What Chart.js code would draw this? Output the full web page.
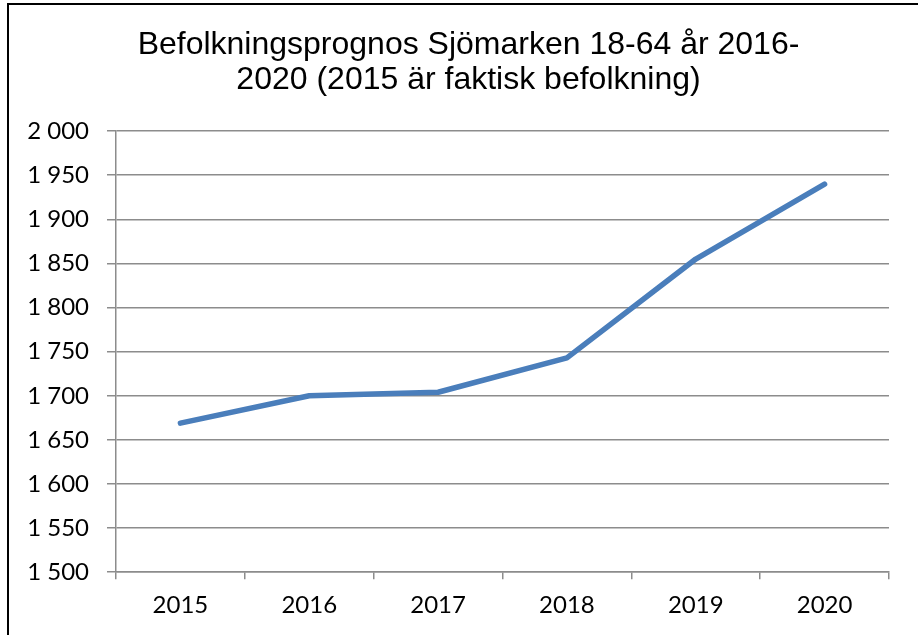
<!DOCTYPE html>
<html>
<head>
<meta charset="utf-8">
<script src="https://cdn.jsdelivr.net/npm/chart.js@4"></script>
<style>
  body { margin: 0; background: #fff; }
  #wrap { width: 918px; height: 635px; position: relative; }
</style>
</head>
<body>
<div id="wrap"><canvas id="chart"></canvas></div>
<script>
const years = ["2015", "2016", "2017", "2018", "2019", "2020"];
const befolkning = [1669, 1700, 1704, 1743, 1855, 1940];
const titleLines = ["Befolkningsprognos Sjömarken 18-64 år 2016-", "2020 (2015 är faktisk befolkning)"];

// ram runt diagrammet + titeln lite förskjuten åt höger som i originalet
const frame = {
  id: "frame",
  afterDraw: function (chart) {
    const { ctx } = chart;
    ctx.save();
    ctx.strokeStyle = "#000";
    ctx.lineWidth = 2;
    ctx.strokeRect(8, 4, 1000, 1000);

    const tb = chart.titleBlock;
    const opts = chart.options.plugins.title;
    const lh = opts.font.size * opts.font.lineHeight;
    ctx.font = opts.font.size + "px " + opts.font.family;
    ctx.fillStyle = "#000";
    ctx.textAlign = "center";
    ctx.textBaseline = "middle";
    const cx = (tb.left + tb.right) / 2 + 10;
    titleLines.forEach((line, i) => {
      ctx.fillText(line, cx, tb.top + opts.padding.top + lh * (i + 0.5));
    });
    ctx.restore();
  },
};

const grey = "#8c8c8c";

function tusen(v) {
  return String(v).replace(/\B(?=(\d{3})+(?!\d))/g, " ");
}

new Chart(document.getElementById("chart"), {
  type: "line",
  data: {
    labels: years,
    datasets: [
      {
        data: befolkning,
        borderColor: "#4A7EBB",
        borderWidth: 5.5,
        borderCapStyle: "round",
        borderJoinStyle: "round",
        pointRadius: 0,
        tension: 0,
      },
    ],
  },
  options: {
    responsive: true,
    maintainAspectRatio: false,
    animation: false,
    layout: { padding: { left: 28, right: 29, top: 0, bottom: 3 } },
    plugins: {
      legend: { display: false },
      tooltip: { enabled: false },
      title: {
        display: true,
        text: titleLines,
        color: "rgba(0,0,0,0)",
        font: { family: "Liberation Sans", size: 32, weight: "normal", lineHeight: 1.08 },
        padding: { top: 28, bottom: 34 },
      },
    },
    scales: {
      x: {
        offset: true,
        grid: { offset: true, drawOnChartArea: false, color: grey, lineWidth: 1.5, tickLength: 7 },
        border: { color: grey, width: 1.5 },
        ticks: { color: "#000", padding: 12, font: { family: "Lato", size: 24 } },
      },
      y: {
        min: 1500,
        max: 2000,
        grid: { color: grey, lineWidth: 1.5, tickLength: 9 },
        border: { color: grey, width: 1.5 },
        ticks: {
          stepSize: 50,
          color: "#000",
          padding: 18,
          font: { family: "Lato", size: 24 },
          callback: (v) => tusen(v),
        },
        afterFit: (scale) => {
          scale.width = 88;
        },
      },
    },
  },
  plugins: [frame],
});
</script>
</body>
</html>
